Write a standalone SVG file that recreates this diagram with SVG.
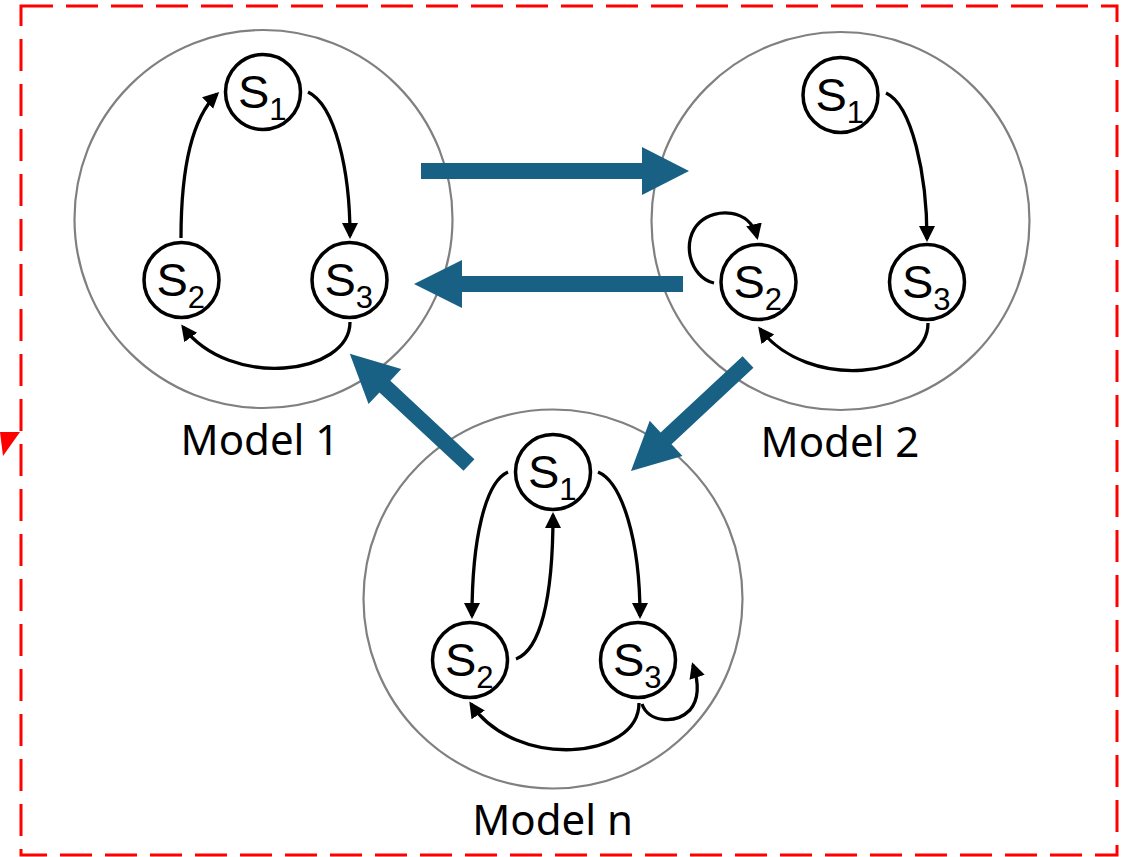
<svg xmlns="http://www.w3.org/2000/svg" width="1128" height="857" viewBox="0 0 1128 857">
<style>
.model{fill:none;stroke:#808080;stroke-width:2.2}
.state{fill:#fff;stroke:#000;stroke-width:3.5}
.st{font-family:"Liberation Sans",Arial,sans-serif;font-size:47px;fill:#000}
.sub{font-size:31px}
.lbl{font-family:"Noto Sans","Open Sans",sans-serif;font-size:42px;fill:#000;text-anchor:middle}
.edge{fill:none;stroke:#000;stroke-width:3.3;marker-end:url(#ah)}
.big{fill:#186184}
</style>
<defs>
<marker id="ah" markerUnits="userSpaceOnUse" markerWidth="18" markerHeight="18" refX="13" refY="8" orient="auto">
<path d="M0,0 L16,8 L0,16 Z" fill="#000"/>
</marker>
</defs>
<rect x="21" y="6" width="1096" height="849" fill="none" stroke="#ff0000" stroke-width="3" stroke-dasharray="32 13"/>
<polygon points="0,432 20,432 3,456" fill="#ff0000"/>

<g id="model1">
<circle class="model" cx="263.5" cy="219" r="189"/>
<text class="lbl" x="260" y="455">Model 1</text>
</g>
<g id="model2">
<circle class="model" cx="840.5" cy="221" r="189"/>
<text class="lbl" x="840" y="457">Model 2</text>
</g>
<g id="modeln">
<circle class="model" cx="553" cy="599" r="189.5"/>
<text class="lbl" x="552.5" y="835">Model n</text>
</g>

<g id="connectors">
<path class="edge" d="M181,238 C181,160 195,115 217,94"/>
<path class="edge" d="M308,92 C335,105 350,170 350,236"/>
<path class="edge" d="M350,322 C350,375 230,390 183,327"/>

<path class="edge" d="M886,93 C912,105 927,175 927,239"/>
<path class="edge" d="M714,283 C690,278 680,240 700,222 C715,208 750,208 757,237"/>
<path class="edge" d="M928,323 C928,378 808,392 760,329"/>

<path class="edge" d="M508,472 C485,482 472,540 472,616"/>
<path class="edge" d="M516,659 C540,650 553,600 553,515"/>
<path class="edge" d="M598,472 C622,482 640,540 640,616"/>
<path class="edge" d="M639,703 C639,760 515,770 471,704"/>
<path class="edge" d="M642,704 C648,722 675,725 690,710 C700,698 698,680 693,665"/>

<polygon class="big" points="421,163 642,163 642,147 689,171 642,195 642,179 421,179"/>
<polygon class="big" points="683,276 462,276 462,260 414,284 462,308 462,292 683,292"/>
<polygon class="big" transform="translate(469,465) rotate(-137)" points="0,-8 115,-8 115,-24 163,0 115,24 115,8 0,8"/>
<polygon class="big" transform="translate(748,362) rotate(137)" points="0,-8 112,-8 112,-24 160,0 112,24 112,8 0,8"/>
</g>

<g id="m1s1"><circle class="state" cx="263" cy="92" r="37.5"/><text class="st" x="238" y="108">S<tspan class="sub" dy="12">1</tspan></text></g>
<g id="m1s2"><circle class="state" cx="181.5" cy="280" r="37.5"/><text class="st" x="156.5" y="296">S<tspan class="sub" dy="12">2</tspan></text></g>
<g id="m1s3"><circle class="state" cx="349.5" cy="280" r="37.5"/><text class="st" x="324.5" y="296">S<tspan class="sub" dy="12">3</tspan></text></g>

<g id="m2s1"><circle class="state" cx="840.5" cy="95" r="37.5"/><text class="st" x="815.5" y="111">S<tspan class="sub" dy="12">1</tspan></text></g>
<g id="m2s2"><circle class="state" cx="758.5" cy="282" r="37.5"/><text class="st" x="733.5" y="298">S<tspan class="sub" dy="12">2</tspan></text></g>
<g id="m2s3"><circle class="state" cx="927" cy="282" r="37.5"/><text class="st" x="902" y="298">S<tspan class="sub" dy="12">3</tspan></text></g>

<g id="mns1"><circle class="state" cx="553" cy="472" r="37.5"/><text class="st" x="528" y="488">S<tspan class="sub" dy="12">1</tspan></text></g>
<g id="mns2"><circle class="state" cx="470" cy="660" r="37.5"/><text class="st" x="445" y="676">S<tspan class="sub" dy="12">2</tspan></text></g>
<g id="mns3"><circle class="state" cx="638" cy="660" r="37.5"/><text class="st" x="613" y="676">S<tspan class="sub" dy="12">3</tspan></text></g>
</svg>
